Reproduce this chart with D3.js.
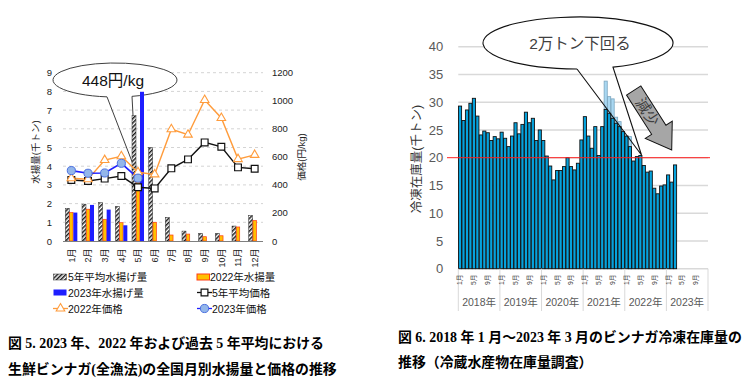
<!DOCTYPE html>
<html><head><meta charset="utf-8">
<script src="https://cdn.jsdelivr.net/npm/d3@7"></script>
<style>
body{margin:0;background:#fff;}
svg{display:block;}
text{font-family:"Liberation Sans","Noto Sans CJK JP",sans-serif;}
.cap{font-family:"Liberation Serif","Noto Sans CJK JP",serif;font-weight:bold;font-size:13.9px;fill:#000;}
</style></head>
<body>
<svg id="c" width="752" height="381"></svg>
<script>
// ---------- Figure 5 data ----------
const months = ["1月","2月","3月","4月","5月","6月","7月","8月","9月","10月","11月","12月"];
const avg5Catch = [1.75, 1.97, 2.05, 1.85, 6.7, 5.0, 1.27, 0.53, 0.41, 0.41, 0.8, 1.37];
const catch2022 = [1.52, 1.70, 1.16, 0.98, 3.78, 1.0, 0.32, 0.37, 0.23, 0.28, 0.75, 1.09];
const catch2023 = [1.52, 1.93, 1.68, 0.84, 7.98];
const avg5Price = [435, 428, 445, 463, 383, 375, 518, 582, 703, 672, 525, 515];
const price2022 = [447, 440, 577, 604, 490, 475, 797, 758, 1005, 877, 584, 614];
const price2023 = [502, 483, 485, 554, 448];
const leftTicks = [0,1,2,3,4,5,6,7,8,9];
const rightTicks = [0,200,400,600,800,1000,1200];

// ---------- Figure 6 data ----------
const years = ["2018年","2019年","2020年","2021年","2022年","2023年"];
const stockMonthLabels = ["1月","5月","9月"];
const stock2018 = [29.3, 26.7, 28.6, 29.8, 30.7, 27.5, 24.1, 24.8, 24.5, 23.1, 23.8, 23.4];
const stock2019 = [24.6, 23.5, 22.0, 23.9, 26.3, 24.3, 26.0, 28.2, 26.3, 27.1, 23.1, 25.0];
const stock2020 = [23.1, 20.3, 18.5, 16.0, 17.7, 17.7, 18.4, 20.0, 18.4, 17.8, 19.0, 23.2];
const stock2021 = [27.4, 23.9, 21.7, 25.6, 20.4, 25.6, 28.7, 28.0, 27.1, 26.2, 25.6, 24.7];
const stock2022 = [23.9, 22.0, 19.4, 20.2, 20.4, 18.6, 17.4, 17.6, 14.5, 13.5, 14.9, 15.1];
const stock2023 = [16.9, 15.6, 18.7];
// earlier (revised) values shown as pale bars, 2021/07 - 2022/02
const stockPrev2021 = [null,null,null,null,null,null,33.8, 31.0, 30.6, 27.3, 26.5, null];
const stockPrev2022 = [null, 23.8];
const stockTicks = [0,5,10,15,20,25,30,35,40];
const thresholdLine = 20;

const svg = d3.select("#c");
const defs = svg.append("defs");
const pat = defs.append("pattern").attr("id","hatch").attr("patternUnits","userSpaceOnUse")
  .attr("width",3).attr("height",3).attr("patternTransform","rotate(45)");
pat.append("rect").attr("width",3).attr("height",3).attr("fill","#fff");
pat.append("rect").attr("width",1.5).attr("height",3).attr("fill","#1a1a1a");

// ===================== LEFT CHART =====================
const L = {x0:63, x1:263, y0:241, y1:72.7};
const xL = d3.scaleBand().domain(months).range([L.x0,L.x1]).paddingInner(0.28).paddingOuter(0.14);
const xSub = d3.scaleBand().domain(["a","b","c"]).range([0,xL.bandwidth()]);
const yL = d3.scaleLinear().domain([0,9]).range([L.y0,L.y1]);
const yR = d3.scaleLinear().domain([0,1200]).range([L.y0,L.y1]);
const xc = m => xL(m) + xL.bandwidth()/2;

const gL = svg.append("g");
gL.selectAll("line.grid").data(leftTicks.slice(1)).join("line")
  .attr("x1",L.x0).attr("x2",L.x1).attr("y1",d=>yL(d)).attr("y2",d=>yL(d))
  .attr("stroke","#d4d4d4").attr("stroke-dasharray","3,3").attr("stroke-width",1);

// callout (behind bars)
{
  const cx=115, cy=80, rx=62, ry=17;
  const ax=107, bx=132;
  const ay = cy + ry*Math.sqrt(1-((ax-cx)/rx)**2);
  const by = cy + ry*Math.sqrt(1-((bx-cx)/rx)**2);
  const tip=[136,172];
  gL.append("ellipse").attr("cx",cx).attr("cy",cy).attr("rx",rx).attr("ry",ry).attr("fill","#fff");
  gL.append("path").attr("d",`M${ax},${ay} L${tip[0]},${tip[1]} L${bx},${by} A${rx},${ry} 0 1 0 ${ax},${ay}`)
    .attr("fill","none").attr("stroke","#404040").attr("stroke-width",1);
  gL.append("text").attr("x",cx-2).attr("y",cy+5.5).attr("text-anchor","middle")
    .attr("font-size",15.5).attr("fill","#111").text("448円/kg");
}

// bars
gL.selectAll("rect.a5").data(avg5Catch).join("rect")
  .attr("x",(d,i)=>xL(months[i])+xSub("a")).attr("width",xSub.bandwidth())
  .attr("y",d=>yL(d)).attr("height",d=>yL(0)-yL(d))
  .attr("fill","url(#hatch)").attr("stroke","#333").attr("stroke-width",0.5);
gL.selectAll("rect.c22").data(catch2022).join("rect")
  .attr("x",(d,i)=>xL(months[i])+xSub("b")+0.3).attr("width",xSub.bandwidth()-0.6)
  .attr("y",d=>yL(d)).attr("height",d=>yL(0)-yL(d))
  .attr("fill","#ffc000").attr("stroke","#ff3c14").attr("stroke-width",0.7);
gL.selectAll("rect.c23").data(catch2023).join("rect")
  .attr("x",(d,i)=>xL(months[i])+xSub("c")).attr("width",xSub.bandwidth())
  .attr("y",d=>yL(d)).attr("height",d=>yL(0)-yL(d))
  .attr("fill","#1e1eff");

gL.append("line").attr("x1",L.x0).attr("x2",L.x1).attr("y1",L.y0+0.5).attr("y2",L.y0+0.5)
  .attr("stroke","#7f7f7f").attr("stroke-width",1);

const lineFn = d3.line().x((d,i)=>xc(months[i])).y(d=>yR(d));
gL.append("path").attr("d",lineFn(avg5Price)).attr("fill","none").attr("stroke","#111").attr("stroke-width",1.4);
gL.append("path").attr("d",lineFn(price2022)).attr("fill","none").attr("stroke","#ff9c3c").attr("stroke-width",1.4);
gL.append("path").attr("d",lineFn(price2023)).attr("fill","none").attr("stroke","#1e1eff").attr("stroke-width",1.6);

const sq = d3.symbol(d3.symbolSquare,46);
const tri = d3.symbol(d3.symbolTriangle,32);
const cir = d3.symbol(d3.symbolCircle,52);
gL.selectAll("path.sq").data(avg5Price).join("path")
  .attr("d",sq).attr("transform",(d,i)=>`translate(${xc(months[i])},${yR(d)})`)
  .attr("fill","#fff").attr("stroke","#111").attr("stroke-width",1.2);
gL.selectAll("path.tri").data(price2022).join("path")
  .attr("d",tri).attr("transform",(d,i)=>`translate(${xc(months[i])},${yR(d)})`)
  .attr("fill","#fff").attr("stroke","#ff9c3c").attr("stroke-width",1.1);
gL.selectAll("path.cir").data(price2023).join("path")
  .attr("d",cir).attr("transform",(d,i)=>`translate(${xc(months[i])},${yR(d)})`)
  .attr("fill","#93b6ea").attr("stroke","#4a6fe0").attr("stroke-width",1);

const axL = gL.append("g").attr("transform",`translate(${L.x0},0)`)
  .call(d3.axisLeft(yL).tickValues(leftTicks).tickSize(0).tickPadding(11).tickFormat(d3.format("d")));
axL.select(".domain").remove();
axL.selectAll("text").attr("font-size",9.5).attr("fill","#222").attr("font-family","Liberation Sans,sans-serif");
const axR = gL.append("g").attr("transform",`translate(${L.x1},0)`)
  .call(d3.axisRight(yR).tickValues(rightTicks).tickSize(0).tickPadding(9).tickFormat(d3.format("d")));
axR.select(".domain").remove();
axR.selectAll("text").attr("font-size",9.5).attr("fill","#222").attr("font-family","Liberation Sans,sans-serif");

gL.selectAll("text.mx").data(months).join("text")
  .attr("transform",d=>`translate(${xc(d)+3.2},248.5) rotate(-90)`)
  .attr("text-anchor","end").attr("font-size",9).attr("fill","#222").text(d=>d);

gL.append("text").attr("transform","translate(39,152) rotate(-90)").attr("text-anchor","middle")
  .attr("font-size",9.5).attr("fill","#222").text("水揚量(千トン)");
gL.append("text").attr("transform","translate(305,157) rotate(-90)").attr("text-anchor","middle")
  .attr("font-size",9.5).attr("fill","#222").text("価格(円/kg)");

// legend
const lg = svg.append("g").attr("font-size",10.5).attr("fill","#111");
const rows=[277,292.5,308.5];
lg.append("rect").attr("x",53.5).attr("y",rows[0]-3).attr("width",13).attr("height",6).attr("fill","url(#hatch)").attr("stroke","#333").attr("stroke-width",0.5);
lg.append("text").attr("x",68).attr("y",rows[0]+4).text("5年平均水揚げ量");
lg.append("rect").attr("x",197).attr("y",rows[0]-3).attr("width",12.5).attr("height",6).attr("fill","#ffc000").attr("stroke","#ff3c14").attr("stroke-width",1);
lg.append("text").attr("x",210).attr("y",rows[0]+4).text("2022年水揚量");
lg.append("rect").attr("x",53.5).attr("y",rows[1]-3).attr("width",13).attr("height",6).attr("fill","#1e1eff");
lg.append("text").attr("x",68).attr("y",rows[1]+4).text("2023年水揚げ量");
lg.append("line").attr("x1",197).attr("x2",212).attr("y1",rows[1]).attr("y2",rows[1]).attr("stroke","#111").attr("stroke-width",1.3);
lg.append("path").attr("d",sq).attr("transform",`translate(204.5,${rows[1]})`).attr("fill","#fff").attr("stroke","#111").attr("stroke-width",1.2);
lg.append("text").attr("x",212).attr("y",rows[1]+4).text("5年平均価格");
lg.append("line").attr("x1",53).attr("x2",68).attr("y1",rows[2]).attr("y2",rows[2]).attr("stroke","#ff9c3c").attr("stroke-width",1.3);
lg.append("path").attr("d",tri).attr("transform",`translate(60.5,${rows[2]})`).attr("fill","#fff").attr("stroke","#ff9c3c").attr("stroke-width",1.1);
lg.append("text").attr("x",68).attr("y",rows[2]+4).text("2022年価格");
lg.append("line").attr("x1",197).attr("x2",212).attr("y1",rows[2]).attr("y2",rows[2]).attr("stroke","#1e1eff").attr("stroke-width",1.3);
lg.append("path").attr("d",cir).attr("transform",`translate(204.5,${rows[2]})`).attr("fill","#93b6ea").attr("stroke","#4a6fe0").attr("stroke-width",1);
lg.append("text").attr("x",212).attr("y",rows[2]+4).text("2023年価格");

svg.append("text").attr("class","cap").attr("x",8).attr("y",348).text("図 5. 2023 年、2022 年および過去 5 年平均における");
svg.append("text").attr("class","cap").attr("x",8).attr("y",374).text("生鮮ビンナガ(全漁法)の全国月別水揚量と価格の推移");

// ===================== RIGHT CHART =====================
const stock = [].concat(stock2018,stock2019,stock2020,stock2021,stock2022,stock2023);
const stockPrev = [].concat(new Array(36).fill(null), stockPrev2021, stockPrev2022);
const prevPts = stockPrev.map((v,i)=>({i:i,v:v})).filter(d=>d.v!=null);
const R = {x0:458.3, x1:708, y0:268.7, y1:46.7};
const xM = d3.scaleBand().domain(d3.range(72)).range([R.x0,R.x1]).paddingInner(0.1).paddingOuter(0.05);
const xY = d3.scaleBand().domain(years).range([R.x0,R.x1]);
const yM = d3.scaleLinear().domain([0,40]).range([R.y0,R.y1]);
const gR = svg.append("g");

gR.selectAll("line.grid").data(stockTicks).join("line")
  .attr("x1",R.x0).attr("x2",R.x1).attr("y1",d=>yM(d)).attr("y2",d=>yM(d))
  .attr("stroke","#d9d9d9").attr("stroke-width",1.6);

gR.selectAll("rect.prev").data(prevPts).join("rect")
  .attr("x",d=>xM(d.i)).attr("width",xM.bandwidth())
  .attr("y",d=>yM(d.v)).attr("height",d=>yM(0)-yM(d.v))
  .attr("fill","#a9d8f2").attr("stroke","#7aa5bf").attr("stroke-width",0.8);
gR.selectAll("rect.stk").data(stock).join("rect")
  .attr("x",(d,i)=>xM(i)).attr("width",xM.bandwidth())
  .attr("y",d=>yM(d)).attr("height",d=>yM(0)-yM(d))
  .attr("fill","#06a2dc").attr("stroke","#111").attr("stroke-width",0.9);

const seps = years.map(y=>xY(y)).concat([R.x1]);
gR.selectAll("line.sep").data(seps).join("line")
  .attr("x1",d=>d).attr("x2",d=>d).attr("y1",R.y0).attr("y2",311)
  .attr("stroke","#d9d9d9").attr("stroke-width",1);
gR.selectAll("text.yr").data(years).join("text")
  .attr("x",d=>xY(d)+xY.bandwidth()/2).attr("y",305.5).attr("text-anchor","middle")
  .attr("font-size",10.5).attr("fill","#595959").text(d=>d);
const labIdx = [];
years.forEach((y,yi)=>[0,4,8].forEach((m,k)=>labIdx.push({i:yi*12+m,t:stockMonthLabels[k]})));
gR.selectAll("text.ml").data(labIdx).join("text")
  .attr("transform",d=>`translate(${xM(d.i)+xM.bandwidth()/2+2.4},274.5) rotate(-90)`)
  .attr("text-anchor","end").attr("font-size",6.8).attr("fill","#404040").text(d=>d.t);

const axM = gR.append("g").attr("transform",`translate(${R.x0},0)`)
  .call(d3.axisLeft(yM).tickValues(stockTicks).tickSize(0).tickPadding(15));
axM.select(".domain").remove();
axM.selectAll("text").attr("font-size",13).attr("fill","#595959").attr("font-family","Liberation Sans,sans-serif");

gR.append("text").attr("transform","translate(421,159) rotate(-90)").attr("text-anchor","middle")
  .attr("font-size",12.5).attr("fill","#333").text("冷凍在庫量(千トン)");

gR.append("line").attr("x1",447).attr("x2",710).attr("y1",yM(thresholdLine)).attr("y2",yM(thresholdLine))
  .attr("stroke","#ff2020").attr("stroke-width",1);

{
  const cx=578, cy=43, rx=95, ry=26;
  const ax=577, bx=613;
  const ay = cy + ry*Math.sqrt(1-((ax-cx)/rx)**2);
  const by = cy + ry*Math.sqrt(1-((bx-cx)/rx)**2);
  const tip=[641.5,155];
  gR.append("ellipse").attr("cx",cx).attr("cy",cy).attr("rx",rx).attr("ry",ry).attr("fill","#fff");
  gR.append("path").attr("d",`M${ax},${ay} L${tip[0]},${tip[1]} L${bx},${by} A${rx},${ry} 0 1 0 ${ax},${ay}`)
    .attr("fill","none").attr("stroke","#111").attr("stroke-width",1.1);
  gR.append("text").attr("x",cx+2).attr("y",cy+5.5).attr("text-anchor","middle")
    .attr("font-size",15.5).attr("fill","#404040").text("2万トン下回る");
}
{
  const t0=[633.7,90.5], t1=[671.7,150];
  const ang = Math.atan2(t1[1]-t0[1], t1[0]-t0[0])*180/Math.PI;
  const len = Math.hypot(t1[0]-t0[0], t1[1]-t0[1]);
  const hb = len-24, bw=8.5, hw=16;
  const ga = gR.append("g").attr("transform",`translate(${t0[0]},${t0[1]}) rotate(${ang})`);
  ga.append("path").attr("d",`M0,${-bw} L${hb},${-bw} L${hb},${-hw} L${len},0 L${hb},${hw} L${hb},${bw} L0,${bw} Z`)
    .attr("fill","#a6a6a6").attr("stroke","#111").attr("stroke-width",1);
  ga.append("text").attr("x",len*0.36).attr("y",5.5).attr("text-anchor","middle")
    .attr("font-size",15).attr("fill","#404040").text("減少");
}

svg.append("text").attr("class","cap").attr("x",398).attr("y",342).text("図 6. 2018 年 1 月～2023 年 3 月のビンナガ冷凍在庫量の");
svg.append("text").attr("class","cap").attr("x",398).attr("y",367).text("推移（冷蔵水産物在庫量調査）");
</script>
</body></html>
